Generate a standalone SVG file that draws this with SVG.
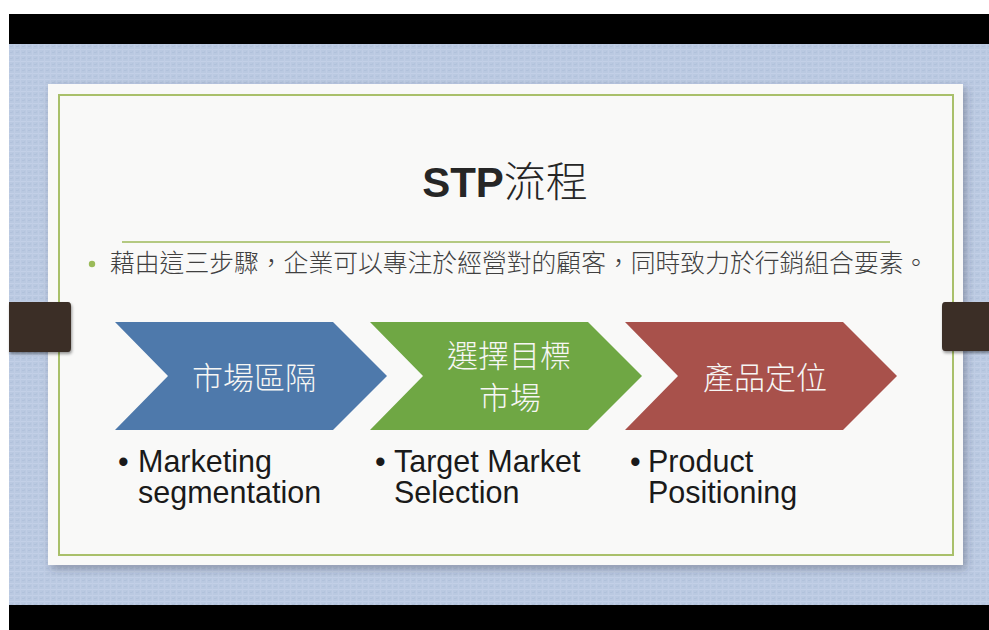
<svg xmlns="http://www.w3.org/2000/svg" width="989" height="630" viewBox="0 0 989 630">
  <defs>
    <!-- blue linen backdrop -->
    <pattern id="linen" width="6" height="6" patternUnits="userSpaceOnUse">
      <rect width="6" height="6" fill="#bac9e1"/>
      <rect x="0" y="1" width="6" height="1" fill="#c3d0e7"/>
      <rect x="2" y="0" width="1" height="6" fill="#c0cde5"/>
      <rect x="4" y="4" width="2" height="1" fill="#b1c1db"/>
      <rect x="0" y="3" width="1" height="2" fill="#b4c4dd"/>
    </pattern>
    <filter id="slideShadow" x="-5%" y="-5%" width="112%" height="115%">
      <feDropShadow dx="3" dy="4" stdDeviation="4" flood-color="#334" flood-opacity="0.35"/>
    </filter>
    <filter id="tabShadow" x="-20%" y="-20%" width="140%" height="150%">
      <feDropShadow dx="1" dy="2" stdDeviation="1.5" flood-color="#000" flood-opacity="0.4"/>
    </filter>
    <style>
      .frame { fill: none; stroke: #a9c06a; stroke-width: 2; }
      .tab { fill: #3a2f28; filter: url(#tabShadow); }
      .chev { stroke: none; }
      .cjk { font-family: "Noto Sans CJK TC", "Noto Sans CJK SC", sans-serif; font-weight: 300; }
      .chevText { font-size: 31px; fill: #f6f6f4; text-anchor: middle; }
      .label { font-family: "Liberation Sans", Arial, sans-serif; font-size: 30.5px; fill: #1a1a1a; }
      .bullet { font-family: "Liberation Sans", Arial, sans-serif; font-size: 30.5px; fill: #1a1a1a; }
      .body { font-size: 24.8px; fill: #404040; }
    </style>
  </defs>

  <!-- page margins and letterbox bars -->
  <rect x="0" y="0" width="989" height="630" fill="#ffffff"/>
  <rect x="9" y="44" width="980" height="561" fill="url(#linen)"/>
  <rect x="9" y="14" width="980" height="30" fill="#000000"/>
  <rect x="9" y="605" width="980" height="25" fill="#000000"/>

  <!-- slide card -->
  <rect x="48" y="84" width="915" height="481" fill="#f9f9f8" filter="url(#slideShadow)"/>
  <rect class="frame" x="59" y="95" width="894" height="460"/>

  <!-- side tabs -->
  <path class="tab" d="M9,302 H68 Q71,302 71,306 V348 Q71,352 68,352 H9 Z"/>
  <path class="tab" d="M989,302 H945 Q942,302 942,306 V347 Q942,351 945,351 H989 Z"/>

  <!-- title -->
  <g id="title">
    <text x="505" y="197" text-anchor="middle" fill="#262626" font-size="42" xml:lang="zh-Hant-TW"><tspan font-family="'Liberation Sans', Arial, sans-serif" font-weight="bold">STP</tspan><tspan class="cjk">流程</tspan></text>
    <line x1="122" y1="242" x2="890" y2="242" stroke="#9cb95a" stroke-width="1.5"/>
  </g>

  <!-- intro bullet -->
  <g id="intro">
    <circle cx="92" cy="264" r="3.2" fill="#9bbb59"/>
    <text class="cjk body" x="110" y="272" xml:lang="zh-Hant-TW">藉由這三步驟，企業可以專注於經營對的顧客，同時致力於行銷組合要素。</text>
  </g>

  <!-- process steps -->
  <g id="step-segmentation">
    <path class="chev" d="M115,322 H333 L387,376 L333,430 H115 L168,376 Z" fill="#4e79ab"/>
    <text class="cjk chevText" x="254" y="389" xml:lang="zh-Hant-TW">市場區隔</text>
    <text class="bullet" x="118" y="472">•</text>
    <text class="label" x="138" y="472">Marketing</text>
    <text class="label" x="138" y="503">segmentation</text>
  </g>

  <g id="step-targeting">
    <path class="chev" d="M370,322 H588 L642,376 L588,430 H370 L423,376 Z" fill="#6fa744"/>
    <text class="cjk chevText" x="509" y="367" xml:lang="zh-Hant-TW">選擇目標</text>
    <text class="cjk chevText" x="510" y="409" xml:lang="zh-Hant-TW">市場</text>
    <text class="bullet" x="375" y="472">•</text>
    <text class="label" x="394" y="472">Target Market</text>
    <text class="label" x="394" y="503">Selection</text>
  </g>

  <g id="step-positioning">
    <path class="chev" d="M625,322 H843 L897,376 L843,430 H625 L678,376 Z" fill="#a8514b"/>
    <text class="cjk chevText" x="765" y="389" xml:lang="zh-Hant-TW">產品定位</text>
    <text class="bullet" x="630" y="472">•</text>
    <text class="label" x="648" y="472">Product</text>
    <text class="label" x="648" y="503">Positioning</text>
  </g>
</svg>
